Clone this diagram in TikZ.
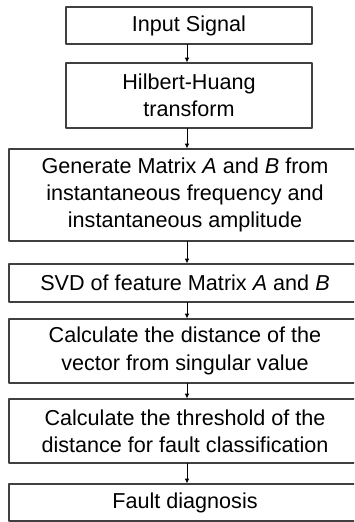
\documentclass[tikz,border=0pt]{standalone}
\usepackage{fontspec}
\setmainfont{Liberation Sans}
\usetikzlibrary{arrows.meta}
\tikzset{box/.style={draw=black!75,line width=0.6pt,align=center,inner sep=0pt,
  font=\fontsize{10.8}{13.6}\selectfont},
  narrowbox/.style={box,minimum width=123pt},
  widebox/.style={box,minimum width=176pt}}
\begin{document}
\begin{tikzpicture}[line cap=round,line join=round,x=0.5pt,y=-0.5pt,>={Latex[length=2.4pt,width=2.4pt]}]
\useasboundingbox (0,0) rectangle (354,522);
\clip(0,0) rectangle (354,522);
\fill[white] (0,0) rectangle (354,522);
\coordinate (axis) at (187,0);
\node[narrowbox,minimum height=18.5pt] (input) at (189,25.5) {Input Signal};
\node[narrowbox,minimum height=32.5pt] (hht) at (189,95.5) {Hilbert-Huang\\transform};
\node[widebox,minimum height=46pt] (matrix) at (185,195) {Generate Matrix \textit{A} and \textit{B} from\\instantaneous frequency and\\instantaneous amplitude};
\node[widebox,minimum height=19pt] (svd) at (185,283) {SVD of feature Matrix \textit{A} and \textit{B}};
\node[widebox,minimum height=32pt] (dist) at (185,351) {Calculate the distance of the\\vector from singular value};
\node[widebox,minimum height=32pt] (thresh) at (185,431) {Calculate the threshold of the\\distance for fault classification};
\node[widebox,minimum height=18.5pt] (fault) at (185,502.5) {Fault diagnosis};
\draw [->,line width=0.5pt] (input.south -| axis) -- (hht.north -| axis);
\draw [->,line width=0.5pt] (hht.south -| axis) -- (matrix.north -| axis);
\draw [->,line width=0.5pt] (matrix.south -| axis) -- (svd.north -| axis);
\draw [->,line width=0.5pt] (svd.south -| axis) -- (dist.north -| axis);
\draw [->,line width=0.5pt] (dist.south -| axis) -- (thresh.north -| axis);
\draw [->,line width=0.5pt] (thresh.south -| axis) -- (fault.north -| axis);
\end{tikzpicture}
\end{document}
